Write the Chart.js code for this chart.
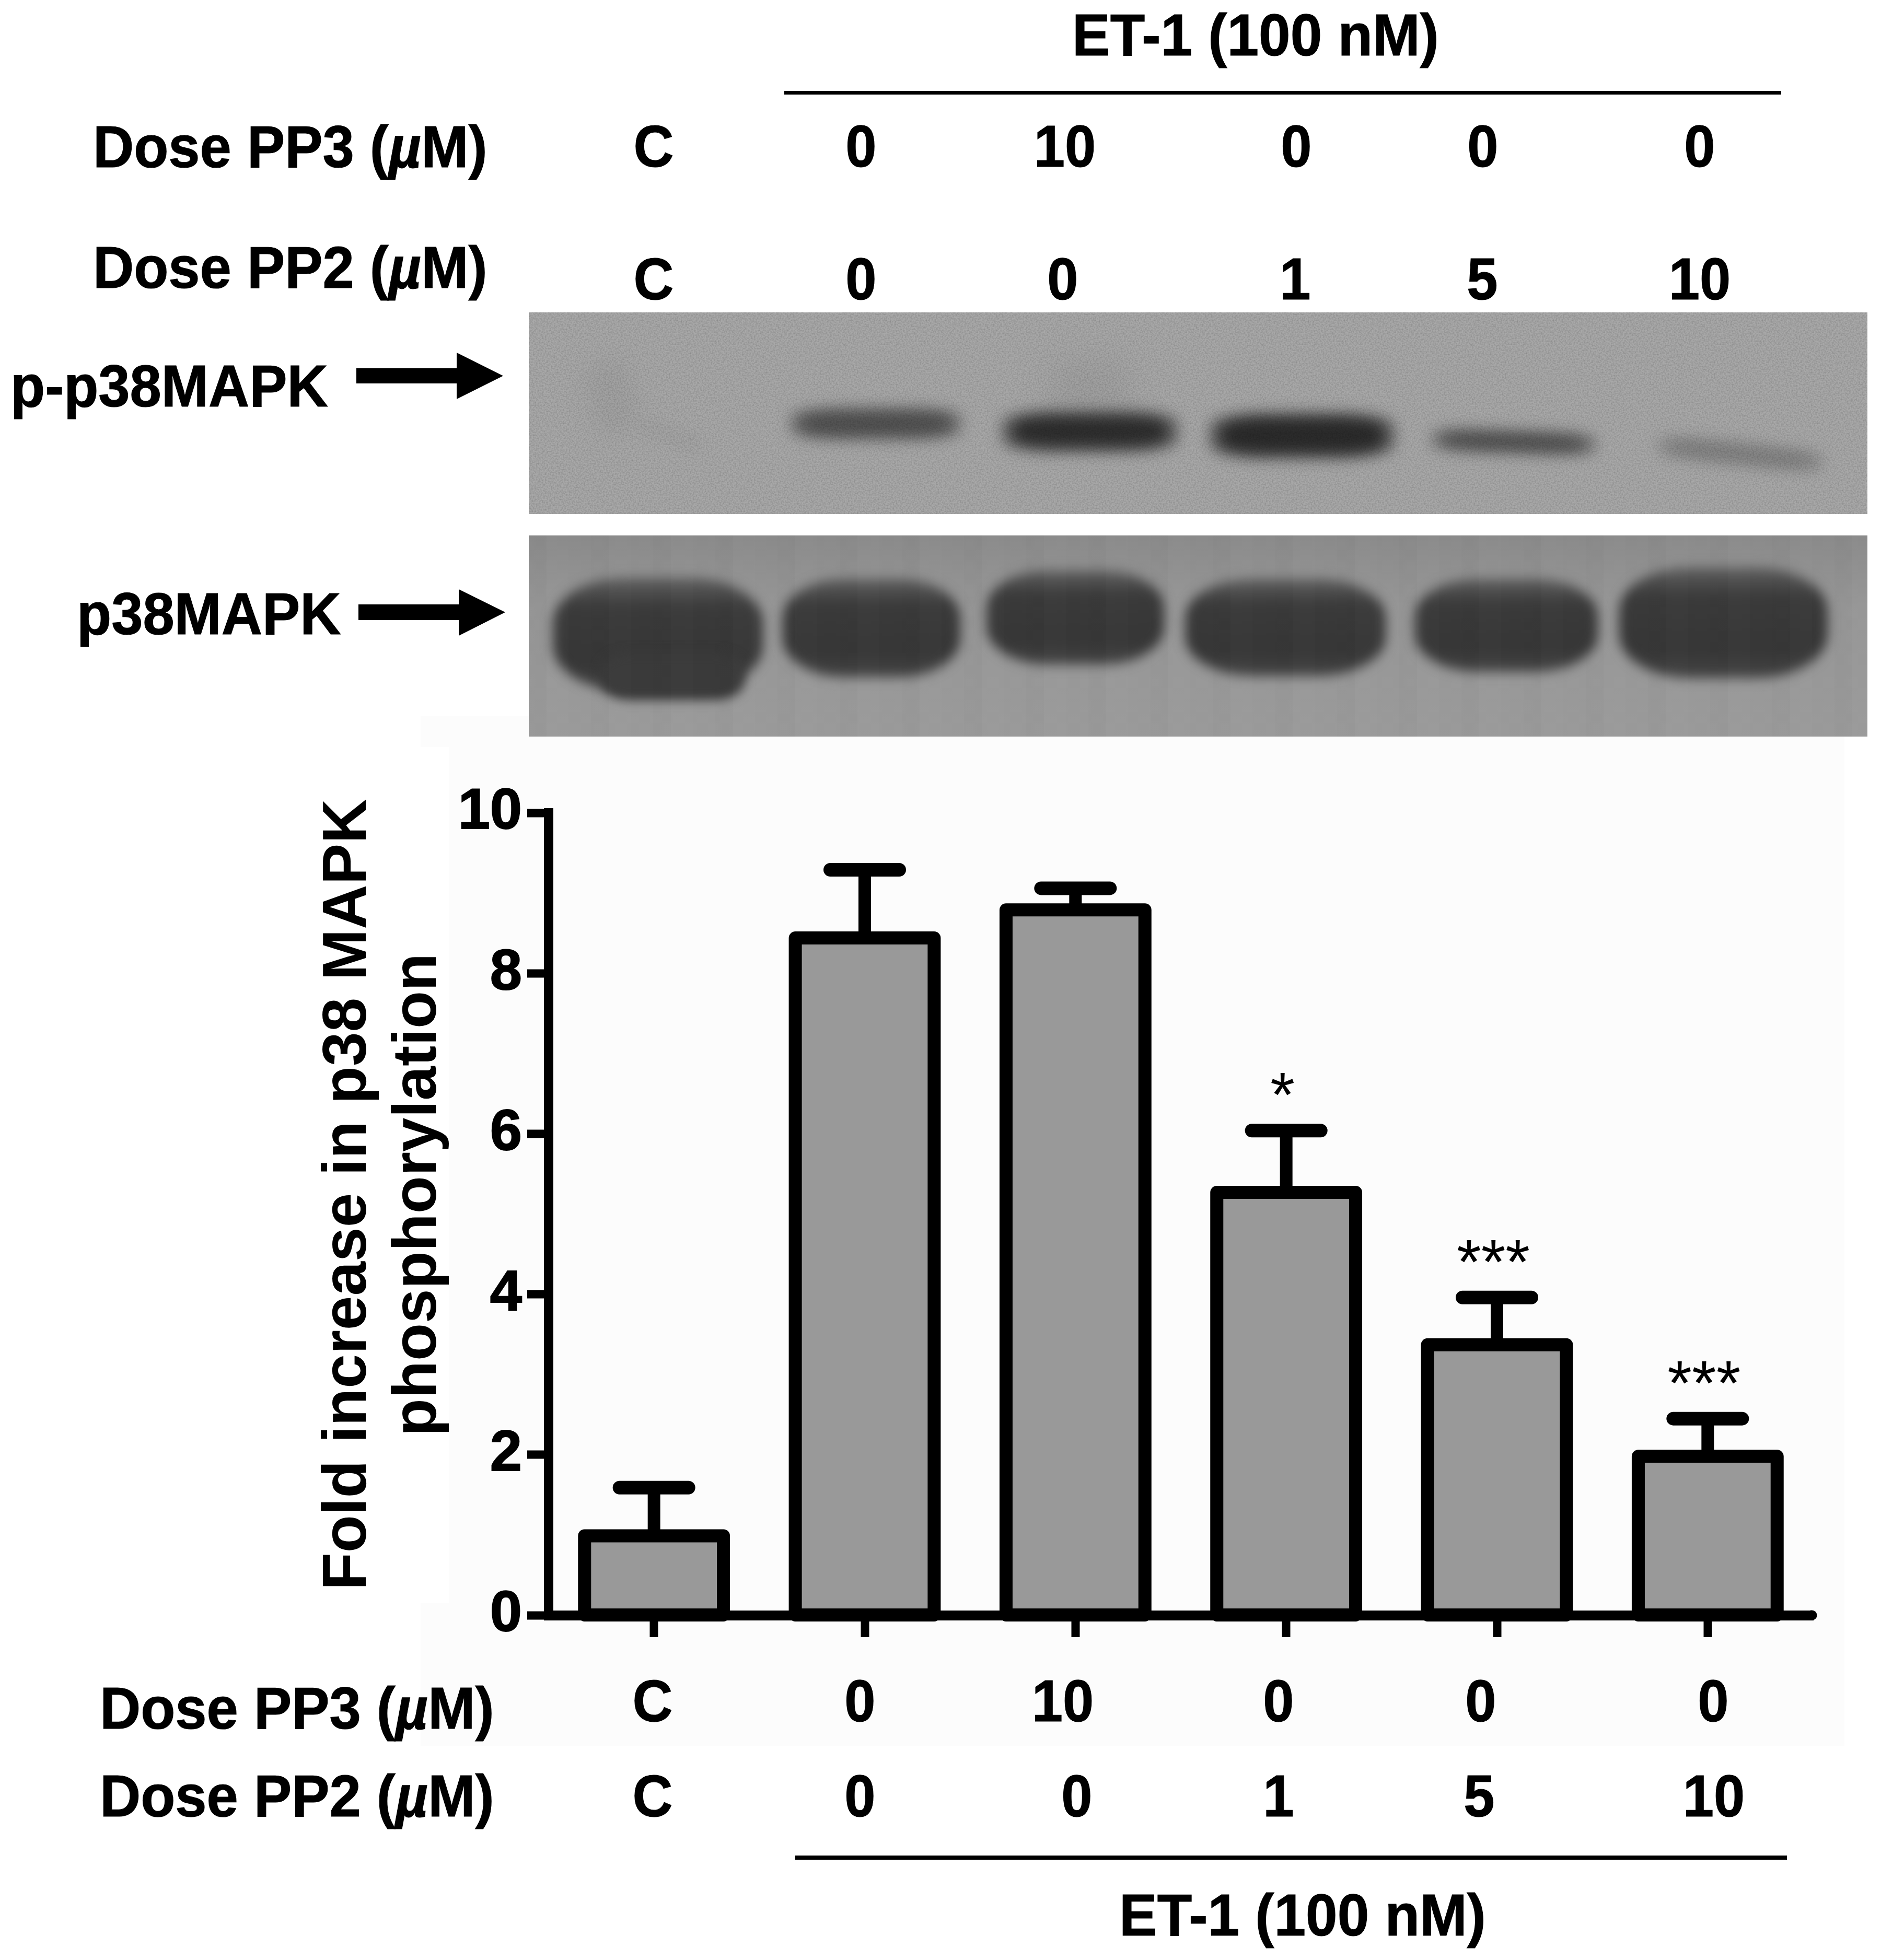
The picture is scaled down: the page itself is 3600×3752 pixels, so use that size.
<!DOCTYPE html>
<html>
<head>
<meta charset="utf-8">
<title>p38 MAPK phosphorylation</title>
<script src="https://cdn.jsdelivr.net/npm/chart.js@4"></script>
<style>
html,body{margin:0;padding:0;background:#fff;}
#page{position:relative;width:3600px;height:3752px;overflow:hidden;background:#fff;font-family:"Liberation Sans",Arial,sans-serif;font-weight:bold;color:#000;}
.t{position:absolute;line-height:1;white-space:pre;font-size:114px;-webkit-text-stroke:1.2px #000;}
.pale{position:absolute;background:#fcfcfc;}
.rule{position:absolute;background:#000;}
.blot{position:absolute;overflow:hidden;}
.band{position:absolute;}
.over{position:absolute;left:0;top:0;right:0;bottom:0;}
canvas{position:absolute;left:0;top:0;}
</style>
</head>
<body>
<div id="page"><canvas id="c" width="3600" height="3752"></canvas></div>
<script>
// ---- chart data ----
const categories   = ['C', 'ET-1', 'ET-1 + PP3 10', 'ET-1 + PP2 1', 'ET-1 + PP2 5', 'ET-1 + PP2 10'];
const foldIncrease = [0.99, 8.44, 8.79, 5.27, 3.37, 1.98];
const errorTop     = [1.59, 9.29, 9.06, 6.04, 3.96, 2.45];
const significance = ['', '', '', '*', '***', '***'];
const yTicks       = [0, 2, 4, 6, 8, 10];
const yTitle       = ['Fold increase in p38 MAPK', 'phosphorylation'];
const pp3Doses     = ['C', '0', '10', '0', '0', '0'];
const pp2Doses     = ['C', '0', '0', '1', '5', '10'];
const treatment    = 'ET-1 (100 nM)';
const pp3Label     = ['Dose PP3 (', 'µ', 'M)'];
const pp2Label     = ['Dose PP2 (', 'µ', 'M)'];
const blotLabels   = ['p-p38MAPK', 'p38MAPK'];

// ---- page layout (not data) ----
const topPP3X = [1251, 1648, 2038, 2481, 2838, 3253];
const topPP2X = [1251, 1648, 2034, 2479, 2837, 3253];
const botPP3X = [1249, 1646, 2034, 2447, 2834, 3279];
const botPP2X = [1249, 1646, 2061, 2447, 2831, 3280];
const FS = 114, SX = 0.95, DIGIT_SX = 0.935;

const page = document.getElementById('page');
function add(cls, css, html) {
  const d = document.createElement('div');
  d.className = cls;
  d.style.cssText = css;
  if (html !== undefined) d.innerHTML = html;
  page.insertBefore(d, document.getElementById('c'));
  return d;
}
function rect(cls, x0, y0, x1, y1) {
  return add(cls, `left:${x0}px;top:${y0}px;width:${x1 - x0}px;height:${y1 - y0}px;`);
}
const TOPF = 0.8465;
function textC(s, x, base, sx) {
  add('t', `left:${x}px;top:${base - TOPF * FS}px;transform:translateX(-50%) scaleX(${sx || DIGIT_SX});`, s);
}
function textL(s, x, base, sx) {
  add('t', `left:${x}px;top:${base - TOPF * FS}px;transform-origin:0 0;transform:scaleX(${sx || SX});`, s);
}
const doseHtml = a => `${a[0]}<i>${a[1]}</i>${a[2]}`;

// pale backing patch behind the plot
rect('pale', 860, 1410, 3530, 3343);
rect('pale', 805, 3069, 860, 3343);
rect('pale', 805, 1370, 1012, 1430);

// western blots
const blotA = add('blot', 'left:1012px;top:598px;width:2562px;height:386px;background:#a8a8a8;');
const blotB = add('blot', 'left:1012px;top:1025px;width:2562px;height:385px;background:linear-gradient(#8a8a8a,#969696 35%,#9a9a9a);');
function band(parent, ox, oy, x0, y0, x1, y1, col, blur, rot, rad) {
  const d = document.createElement('div');
  d.className = 'band';
  d.style.cssText = `left:${x0 - ox}px;top:${y0 - oy}px;width:${x1 - x0}px;height:${y1 - y0}px;background:${col};` +
    `filter:blur(${blur}px);border-radius:${rad || '30%'};transform:rotate(${rot || 0}deg);`;
  parent.appendChild(d);
}
// faint smears
band(blotA, 1012, 598, 1125, 690, 1215, 830, '#a1a1a1', 20, -14);
band(blotA, 1012, 598, 1210, 815, 1350, 850, '#a2a2a2', 14, 20);
band(blotA, 1012, 598, 2010, 690, 2160, 800, '#9f9f9f', 30, 0);
// p-p38 bands: soft halo, then core
[[1514, 780, 1838, 842, '#6a6a6a', '#4e4e4e', 0],
 [1918, 786, 2254, 866, '#5c5c5c', '#2d2d2d', 0],
 [2316, 790, 2668, 878, '#565656', '#2a2a2a', 0],
 [2740, 822, 3054, 870, '#707070', '#474747', 2],
 [3172, 846, 3490, 892, '#8c8c8c', '#7c7c7c', 6]].forEach(b => {
  band(blotA, 1012, 598, b[0], b[1], b[2], b[3], b[4], 14, b[6]);
  band(blotA, 1012, 598, b[0] + 24, b[1] + 14, b[2] - 24, b[3] - 14, b[5], 13, b[6]);
});
// p38 bands: barrel shapes, lighter at the top
const p38 = [[1058, 1106, 1460, 1322], [1498, 1108, 1838, 1296], [1888, 1092, 2228, 1272],
             [2268, 1108, 2652, 1294], [2708, 1108, 3058, 1286], [3098, 1086, 3498, 1298]];
const p38Fill = 'linear-gradient(#606060,#3a3a3a 26%,#363636 75%,#444444)';
p38.forEach(b => band(blotB, 1012, 1025, b[0], b[1], b[2], b[3], p38Fill, 11, 0, '34% / 40%'));
band(blotB, 1012, 1025, 1150, 1250, 1425, 1340, '#3a3a3a', 10, 0, '20% / 40%');
// film grain and lane streaks
const grain = "url(\"data:image/svg+xml,%3Csvg xmlns='http://www.w3.org/2000/svg' width='400' height='400'%3E%3Cfilter id='n'%3E%3CfeTurbulence type='fractalNoise' baseFrequency='0.35' numOctaves='2' seed='3'/%3E%3CfeColorMatrix values='0 0 0 0 0 0 0 0 0 0 0 0 0 0 0 0 0 0 0.9 -0.32'/%3E%3C/filter%3E%3Crect width='400' height='400' filter='url(%23n)'/%3E%3C/svg%3E\")";
const ga = document.createElement('div'); ga.className = 'over'; ga.style.backgroundImage = grain; ga.style.opacity = 0.35; blotA.appendChild(ga);
const gb = document.createElement('div'); gb.className = 'over';
gb.style.background = 'repeating-linear-gradient(90deg,rgba(0,0,0,.012) 0 34px,rgba(255,255,255,.012) 34px 76px,rgba(0,0,0,0) 76px 119px)';
blotB.appendChild(gb);

// arrows
function arrow(x0, xh, xt, ys0, ys1, yh0, yh1, yt) {
  const w = xt - x0, h = yh1 - yh0;
  return add('blot', `left:${x0}px;top:${yh0}px;width:${w}px;height:${h}px;background:#000;` +
    `clip-path:polygon(0 ${ys0 - yh0}px,${xh - x0}px ${ys0 - yh0}px,${xh - x0}px 0,${w}px ${yt - yh0}px,${xh - x0}px ${h}px,${xh - x0}px ${ys1 - yh0}px,0 ${ys1 - yh0}px);`);
}
arrow(682, 874, 963, 705, 734, 675, 764, 719.5);
arrow(686, 878, 967, 1157, 1187, 1128, 1217, 1172);

// annotation text, upper block
textC(treatment, 2403, 107, 0.955);
rect('rule', 1501, 174, 3409, 181);
textL(doseHtml(pp3Label), 178, 321);
textL(doseHtml(pp2Label), 178, 552);
pp3Doses.forEach((s, i) => textC(s, topPP3X[i], 320));
pp2Doses.forEach((s, i) => textC(s, topPP2X[i], 574));
textL(blotLabels[0], 20, 779);
textL(blotLabels[1], 147, 1215);

// annotation text, lower block
textL(doseHtml(pp3Label), 191, 3310);
textL(doseHtml(pp2Label), 191, 3478);
pp3Doses.forEach((s, i) => textC(s, botPP3X[i], 3296));
pp2Doses.forEach((s, i) => textC(s, botPP2X[i], 3478));
rect('rule', 1522, 3552, 3420, 3560);
textC(treatment, 2493, 3706, 0.955);

// marks drawn on top of the library's bars, from its own scales
const marks = {
  id: 'marks',
  afterLayout(chart) {
    const s = chart.scales.y;
    if (!s._shifted) {
      const orig = s.drawTitle;
      s.drawTitle = function (a) {
        const ctx = this.ctx;
        ctx.save();
        ctx.translate(0, -37);
        orig.call(this, a);
        ctx.restore();
      };
      s._shifted = true;
    }
  },
  afterDatasetsDraw(chart) {
    const { ctx, chartArea, scales: { y } } = chart;
    const bars = chart.getDatasetMeta(0).data;
    ctx.save();
    ctx.strokeStyle = '#000';
    // rounded right end of the baseline
    ctx.lineCap = 'round';
    ctx.lineWidth = 19;
    ctx.beginPath(); ctx.moveTo(chartArea.right - 4, chartArea.bottom); ctx.lineTo(chartArea.right - 2, chartArea.bottom); ctx.stroke();
    bars.forEach((b, i) => {
      const top = y.getPixelForValue(errorTop[i]);
      // error bar
      ctx.lineCap = 'butt';
      ctx.lineWidth = 24;
      ctx.beginPath(); ctx.moveTo(b.x, b.y); ctx.lineTo(b.x, top); ctx.stroke();
      ctx.lineCap = 'round';
      ctx.lineWidth = 26;
      ctx.beginPath(); ctx.moveTo(b.x - 66, top); ctx.lineTo(b.x + 66, top); ctx.stroke();
      // bar outline centred on the bar's edges
      ctx.lineCap = 'butt';
      ctx.lineJoin = 'round';
      ctx.lineWidth = 25;
      ctx.strokeRect(b.x - b.width / 2, b.y, b.width, b.base - b.y);
      // significance stars
      if (significance[i]) {
        ctx.fillStyle = '#000';
        ctx.font = 'normal 120px "Liberation Sans"';
        ctx.textAlign = 'center';
        ctx.textBaseline = 'middle';
        ctx.fillText(significance[i], b.x - 7, top - 60);
      }
    });
    ctx.restore();
  }
};

new Chart(document.getElementById('c'), {
  type: 'bar',
  data: {
    labels: categories,
    datasets: [{
      data: foldIncrease,
      backgroundColor: '#999999',
      borderWidth: 0,
      barPercentage: 0.659,
      categoryPercentage: 1
    }]
  },
  options: {
    responsive: false,
    animation: false,
    devicePixelRatio: 1,
    layout: { padding: { left: 0, top: 1556, right: 130, bottom: 560 } },
    plugins: { legend: { display: false }, tooltip: { enabled: false }, title: { display: false } },
    scales: {
      x: {
        afterFit(s) { s.height = 100; },
        grid: { offset: false, drawOnChartArea: false, color: '#000', tickColor: '#000', tickLength: 42, tickWidth: 16 },
        border: { color: '#000', width: 19 },
        ticks: { display: false }
      },
      y: {
        min: 0,
        max: 10,
        afterFit(s) { s.width = 1050; },
        afterBuildTicks(s) { s.ticks = yTicks.map(v => ({ value: v })); },
        grid: { drawOnChartArea: false, color: '#000', tickColor: '#000', tickLength: 41, tickWidth: 16 },
        border: { color: '#000', width: 18 },
        ticks: {
          color: '#000',
          padding: 10,
          textStrokeColor: '#000',
          textStrokeWidth: 2,
          font: { family: '"Liberation Sans"', weight: 'bold', size: 110 }
        },
        title: {
          display: true,
          text: yTitle,
          color: '#000',
          padding: { top: 600, bottom: 0 },
          font: { family: '"Liberation Sans"', weight: 'bold', size: 118, lineHeight: 1.136 }
        }
      }
    }
  },
  plugins: [marks]
});
</script>
</body>
</html>
